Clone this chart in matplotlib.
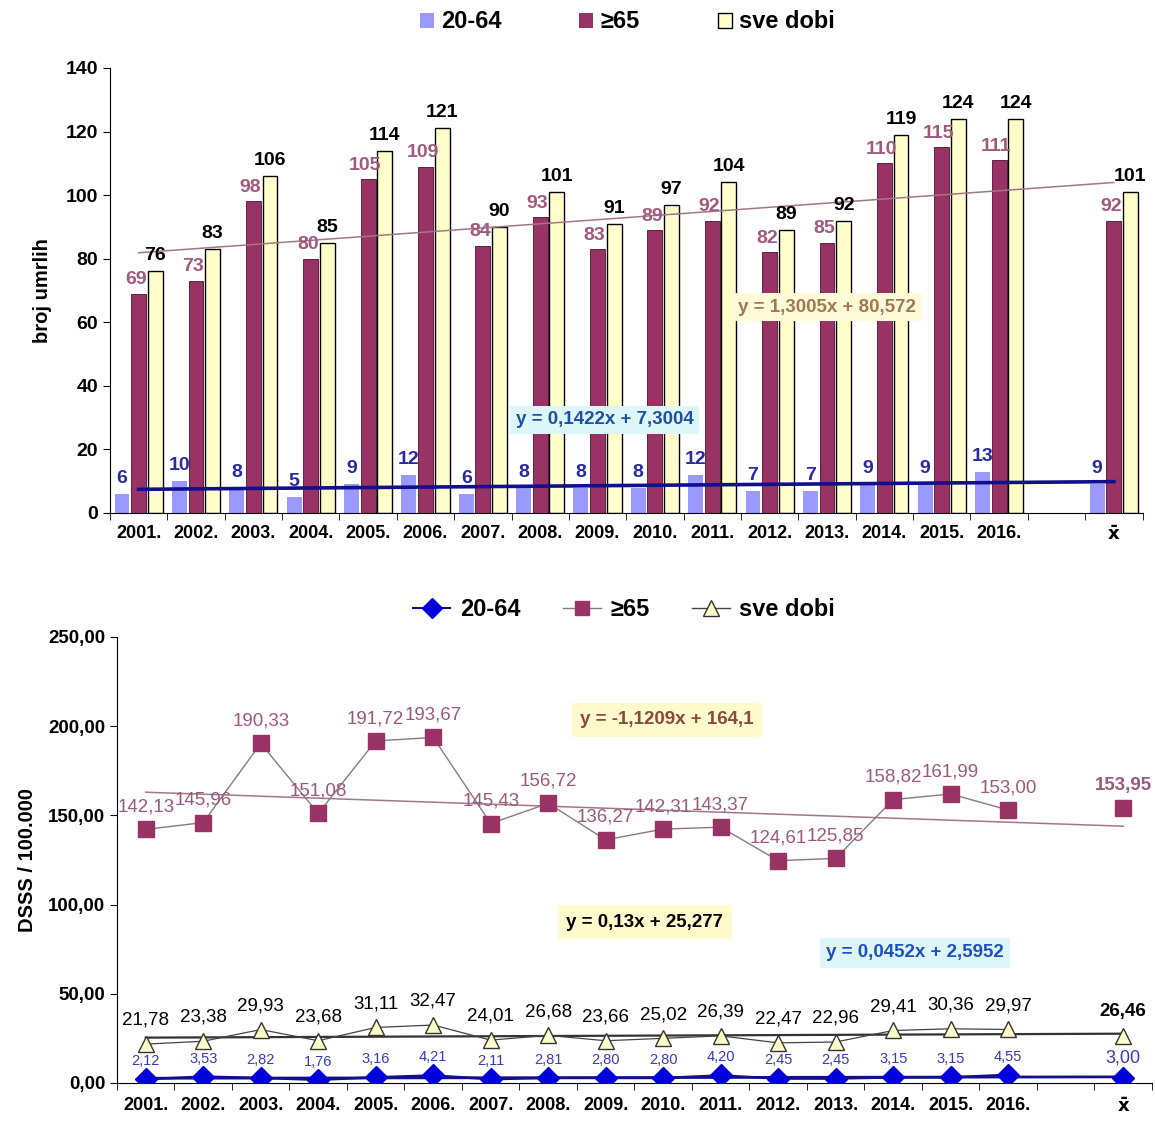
import matplotlib
matplotlib.use('Agg')
import matplotlib.pyplot as plt
from matplotlib.patches import Patch
from matplotlib.lines import Line2D
import numpy as np

plt.rcParams['font.family'] = ['Liberation Sans', 'DejaVu Sans']

# categories: 16 years, an empty slot, then the mean
years = ['2001.', '2002.', '2003.', '2004.', '2005.', '2006.', '2007.', '2008.',
         '2009.', '2010.', '2011.', '2012.', '2013.', '2014.', '2015.', '2016.']
mean_label = 'x\u0304'

# top chart - number of deaths
n_2064 = [6, 10, 8, 5, 9, 12, 6, 8, 8, 8, 12, 7, 7, 9, 9, 13]
n_65 = [69, 73, 98, 80, 105, 109, 84, 93, 83, 89, 92, 82, 85, 110, 115, 111]
n_sve = [76, 83, 106, 85, 114, 121, 90, 101, 91, 97, 104, 89, 92, 119, 124, 124]
n_mean = [9, 92, 101]
trend_top_2064 = (0.1422, 7.3004)
trend_top_sve = (1.3005, 80.572)

# bottom chart - rates per 100.000
r_2064 = [2.12, 3.53, 2.82, 1.76, 3.16, 4.21, 2.11, 2.81, 2.80, 2.80, 4.20, 2.45, 2.45, 3.15, 3.15, 4.55]
r_65 = [142.13, 145.96, 190.33, 151.08, 191.72, 193.67, 145.43, 156.72, 136.27, 142.31, 143.37,
        124.61, 125.85, 158.82, 161.99, 153.00]
r_sve = [21.78, 23.38, 29.93, 23.68, 31.11, 32.47, 24.01, 26.68, 23.66, 25.02, 26.39, 22.47,
         22.96, 29.41, 30.36, 29.97]
r_mean = [3.00, 153.95, 26.46]
trend_r_2064 = (0.0452, 2.5952)
trend_r_65 = (-1.1209, 164.1)
trend_r_sve = (0.13, 25.277)

c_blue_bar = '#9999FF'
c_maroon = '#993366'
c_cream = '#FFFFCC'
c_lbl65 = '#A05A80'
c_lblblue = '#2A2AA0'

def fmt(v):
    return ('%.2f' % v).replace('.', ',')

def style_ticks(ax, xsize, ysize):
    for lab in ax.get_xticklabels():
        lab.set_fontweight('bold')
        lab.set_fontsize(xsize)
    for lab in ax.get_yticklabels():
        lab.set_fontweight('bold')
        lab.set_fontsize(ysize)
    ax.get_xticklabels()[-1].set_family('DejaVu Sans')

fig = plt.figure(figsize=(11.55, 11.22), dpi=100)

x = np.arange(1, 17)
xm = 18
tick_pos = list(x) + [xm]
tick_lab = years + [mean_label]
xs = list(x) + [xm]
tx = np.array([1, 18])

# ---------------- top chart ----------------
ax1 = fig.add_axes([0.0952, 0.5428, 0.894, 0.3966])
off = 0.29
w = 0.26
ax1.bar(x - off, n_2064, w, color=c_blue_bar)
ax1.bar(x, n_65, w, color=c_maroon, edgecolor='#4a1030', linewidth=0.6)
ax1.bar(x + off, n_sve, w, color=c_cream, edgecolor='black', linewidth=1.0)
ax1.bar([xm - off], [n_mean[0]], w, color=c_blue_bar)
ax1.bar([xm], [n_mean[1]], w, color=c_maroon, edgecolor='#4a1030', linewidth=0.6)
ax1.bar([xm + off], [n_mean[2]], w, color=c_cream, edgecolor='black', linewidth=1.0)

ax1.plot(tx, trend_top_sve[0] * tx + trend_top_sve[1], color='#A07888', lw=1.1, zorder=4)
ax1.plot(tx, trend_top_2064[0] * tx + trend_top_2064[1], color='#10108A', lw=2.6, zorder=4)

for xi, v in zip(xs, n_2064 + [n_mean[0]]):
    ax1.annotate(str(v), (xi - off, v), xytext=(0, 5), textcoords='offset points',
                 ha='center', va='bottom', fontsize=14, fontweight='bold', color=c_lblblue, zorder=6)
for xi, v in zip(xs, n_65 + [n_mean[1]]):
    ax1.annotate(str(v), (xi - 0.05, v), xytext=(0, 4), textcoords='offset points',
                 ha='center', va='bottom', fontsize=14, fontweight='bold', color=c_lbl65, zorder=6)
for xi, v in zip(xs, n_sve + [n_mean[2]]):
    ax1.annotate(str(v), (xi + off, v), xytext=(0, 5), textcoords='offset points',
                 ha='center', va='bottom', fontsize=14, fontweight='bold', color='black', zorder=6)

ax1.text(9.12, 29.3, 'y = 0,1422x + 7,3004', ha='center', va='center', fontsize=13.5,
         fontweight='bold', color='#2050A0', zorder=7,
         bbox=dict(boxstyle='square,pad=0.3', fc='#DDF6F8', ec='none'))
ax1.text(13.0, 64.7, 'y = 1,3005x + 80,572', ha='center', va='center', fontsize=13.5,
         fontweight='bold', color='#A07A50', zorder=7,
         bbox=dict(boxstyle='square,pad=0.3', fc='#FFFBD8', ec='none'))

ax1.set_xlim(0.5, 18.5)
ax1.set_ylim(0, 140)
ax1.set_yticks(range(0, 141, 20))
ax1.set_xticks(tick_pos)
ax1.set_xticklabels(tick_lab)
ax1.set_xticks(np.arange(0.5, 18.6, 1), minor=True)
ax1.tick_params(axis='x', which='major', length=0, pad=9)
ax1.tick_params(axis='x', which='minor', length=5, direction='out')
ax1.tick_params(axis='y', length=5)
style_ticks(ax1, 13, 14)
ax1.set_ylabel('broj umrlih', fontsize=14.5, fontweight='bold', labelpad=10)
ax1.spines['top'].set_visible(False)
ax1.spines['right'].set_visible(False)

h1 = [Patch(fc=c_blue_bar, ec='none'), Patch(fc=c_maroon, ec='none'),
      Patch(fc=c_cream, ec='black', lw=1)]
fig.legend(h1, ['20-64', '\u226565', 'sve dobi'], loc='center', bbox_to_anchor=(0.543, 1 - 22 / 1122),
           ncol=3, frameon=False, prop={'size': 17, 'weight': 'bold'}, handlelength=0.6,
           handleheight=0.6, handletextpad=0.3, columnspacing=3.3)

# ---------------- bottom chart ----------------
ax2 = fig.add_axes([0.1013, 0.0348, 0.896, 0.3975])

ax2.plot(tx, trend_r_65[0] * tx + trend_r_65[1], color='#A07888', lw=1.1, zorder=2)
ax2.plot(tx, trend_r_sve[0] * tx + trend_r_sve[1], color='#333333', lw=1.6, zorder=2)
ax2.plot(tx, trend_r_2064[0] * tx + trend_r_2064[1], color='#10108A', lw=2.0, zorder=2)

ax2.plot(x, r_65, color='#8a7a80', lw=1.0, marker='s', ms=11, mfc=c_maroon, mec=c_maroon, zorder=4)
ax2.plot([xm], [r_mean[1]], ls='none', marker='s', ms=11, mfc=c_maroon, mec=c_maroon, zorder=4)
ax2.plot(x, r_sve, color='#444444', lw=0.9, marker='^', ms=12, mfc=c_cream, mec='#333333', mew=1.0, zorder=4)
ax2.plot([xm], [r_mean[2]], ls='none', marker='^', ms=12, mfc=c_cream, mec='#333333', mew=1.0, zorder=4)
ax2.plot(x, r_2064, color='#10108A', lw=1.8, marker='D', ms=11, mfc='#0000DD', mec='#0000DD', zorder=5)
ax2.plot([xm], [r_mean[0]], ls='none', marker='D', ms=11, mfc='#0000DD', mec='#0000DD', zorder=5)

for i, (xi, v) in enumerate(zip(xs, r_65 + [r_mean[1]])):
    ax2.annotate(fmt(v), (xi, v), xytext=(0, 10), textcoords='offset points', ha='center', va='bottom',
                 fontsize=13.5, color='#9A5A7E', fontweight='bold' if i == 16 else 'normal', zorder=6)
for i, (xi, v) in enumerate(zip(xs, r_sve + [r_mean[2]])):
    ax2.annotate(fmt(v), (xi, v), xytext=(0, 11), textcoords='offset points', ha='center', va='bottom',
                 fontsize=13.5, color='black', fontweight='bold' if i == 16 else 'normal', zorder=6)
for i, (xi, v) in enumerate(zip(xs, r_2064 + [r_mean[0]])):
    ax2.annotate(fmt(v), (xi, v), xytext=(0, 8), textcoords='offset points', ha='center', va='bottom',
                 fontsize=13 if i == 16 else 10.5, color='#3A3AB0', zorder=6)

ax2.text(10.07, 203.5, 'y = -1,1209x + 164,1', ha='center', va='center', fontsize=13.5,
         fontweight='bold', color='#8A4A40', zorder=7,
         bbox=dict(boxstyle='square,pad=0.45', fc='#FFFBCC', ec='none'))
ax2.text(9.68, 90.2, 'y = 0,13x + 25,277', ha='center', va='center', fontsize=13.5,
         fontweight='bold', color='black', zorder=7,
         bbox=dict(boxstyle='square,pad=0.45', fc='#FFFBCC', ec='none'))
ax2.text(14.38, 72.9, 'y = 0,0452x + 2,5952', ha='center', va='center', fontsize=13.5,
         fontweight='bold', color='#2050C0', zorder=7,
         bbox=dict(boxstyle='square,pad=0.35', fc='#DDF6F8', ec='none'))

ax2.set_xlim(0.5, 18.5)
ax2.set_ylim(0, 250)
ax2.set_yticks(range(0, 251, 50))
ax2.set_yticklabels([fmt(v) for v in range(0, 251, 50)])
ax2.set_xticks(tick_pos)
ax2.set_xticklabels(tick_lab)
ax2.set_xticks(np.arange(0.5, 18.6, 1), minor=True)
ax2.tick_params(axis='x', which='major', length=0, pad=10)
ax2.tick_params(axis='x', which='minor', length=5, direction='out')
ax2.tick_params(axis='y', length=5)
style_ticks(ax2, 13, 13.5)
ax2.set_ylabel('DSSS / 100.000', fontsize=14.5, fontweight='bold', labelpad=8)
ax2.spines['top'].set_visible(False)
ax2.spines['right'].set_visible(False)

h2 = [Line2D([], [], color='#10108A', lw=1.5, marker='D', ms=10, mfc='#0000DD', mec='#0000DD'),
      Line2D([], [], color='#8a7a80', lw=1.0, marker='s', ms=10, mfc=c_maroon, mec=c_maroon),
      Line2D([], [], color='#444444', lw=1.0, marker='^', ms=11, mfc=c_cream, mec='#333333')]
fig.legend(h2, ['20-64', '\u226565', 'sve dobi'], loc='center', bbox_to_anchor=(0.54, 1 - 610 / 1122),
           ncol=3, frameon=False, prop={'size': 17, 'weight': 'bold'}, handlelength=1.6,
           handletextpad=0.4, columnspacing=1.8)

fig.savefig('out.png', dpi=100)
